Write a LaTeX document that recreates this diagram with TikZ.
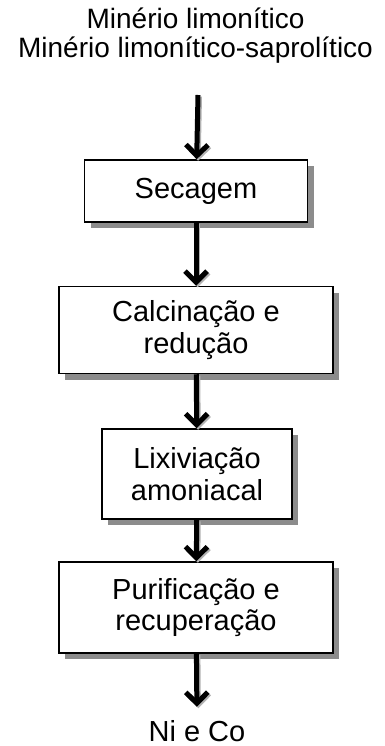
\documentclass[tikz,border=0pt]{standalone}
\usepackage{fontspec}
\setmainfont{Liberation Sans}
\usetikzlibrary{positioning}
\usetikzlibrary{arrows.meta}
\usetikzlibrary{shadows}
\tikzset{
    stepbox/.style = {rectangle, draw=black, line width=1.5pt, fill=white, align=center, inner sep=0pt, font=\fontsize{29}{31.5}\selectfont, drop shadow={shadow xshift=6pt, shadow yshift=-6pt, fill=black!45, opacity=1}},
    textnode/.style = {align=center, inner sep=0pt},
    flow/.style = {-{Straight Barb[length=11pt,width=22pt]}, line width=5pt, black},
    flowshadow/.style = {flow, draw=black!30, transform canvas={xshift=1.5pt,yshift=-1.5pt}}, % sombra
}

\begin{document}
\begin{tikzpicture}[x=1pt, y=-1pt, font=\fontsize{28}{29}\selectfont]
  \useasboundingbox (0,0) rectangle (384,746);
  \node[textnode, anchor=north] (minerio) at (195.5,8) {Minério limonítico\\Minério limonítico-saprolítico};
  \coordinate (entrada) at (198,95);
  \node[stepbox, minimum width=223pt, minimum height=62pt] (secagem) at (196,191) {Secagem};
  \node[stepbox, minimum width=274pt, minimum height=87pt] (calcinacao) at (196,330) {Calcinação e\\redução};
  \node[stepbox, minimum width=190pt, minimum height=90pt] (lixiviacao) at (197,474) {Lixiviação\\amoniacal};
  \node[stepbox, minimum width=274pt, minimum height=91pt] (purificacao) at (196,607.5) {Purificação e\\recuperação};
  \node[textnode, anchor=base, font=\fontsize{29}{31.5}\selectfont] (nico) at (197,741) {Ni e Co};
  % setas
  \draw[flowshadow] (entrada) -- (secagem);
  \draw[flow] (entrada) -- (secagem);
  \draw[flowshadow] (secagem) -- (calcinacao);
  \draw[flow] (secagem) -- (calcinacao);
  \draw[flowshadow] (calcinacao) -- (lixiviacao);
  \draw[flow] (calcinacao) -- (lixiviacao);
  \draw[flowshadow] (lixiviacao) -- (purificacao);
  \draw[flow] (lixiviacao) -- (purificacao);
  \draw[flowshadow, shorten >=13pt] (purificacao) -- (nico.north);
  \draw[flow, shorten >=13pt] (purificacao) -- (nico.north);
\end{tikzpicture}
\end{document}
